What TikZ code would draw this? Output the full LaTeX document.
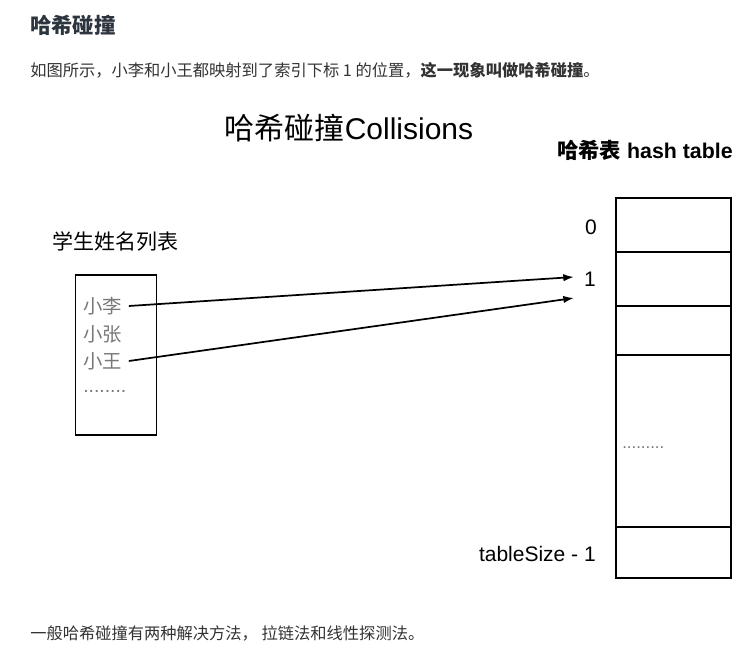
\documentclass[tikz,border=0pt]{standalone}
\usepackage{fontspec}
\setmainfont{Liberation Sans}
\newfontfamily\cjk{Noto Sans CJK SC}
\usetikzlibrary{positioning,arrows.meta}
\definecolor{headgrey}{RGB}{44,52,62}
\definecolor{textgrey}{RGB}{51,51,51}
\definecolor{namegrey}{RGB}{120,120,120}

\begin{document}
\begin{tikzpicture}[
    x=0.75pt, y=-0.75pt,
    >=Latex,
    heading/.style={
        anchor=west,
        inner sep=0pt,
        text=headgrey,
        font=\cjk\bfseries\fontsize{16}{19}\selectfont
    },
    body/.style={
        anchor=west,
        inner sep=0pt,
        text=textgrey,
        font=\cjk\fontsize{12.2}{15}\selectfont
    },
    caption/.style={
        inner sep=0pt,
        font=\fontsize{22.5}{26}\selectfont
    },
    idxtext/.style={
        inner sep=0pt,
        font=\fontsize{15.75}{18}\selectfont
    },
    student/.style={
        anchor=west,
        inner sep=0pt,
        text=namegrey,
        font=\cjk\fontsize{14.5}{17}\selectfont
    },
    listbox/.style={
        draw,
        line width=1.3pt,
        minimum width=60.75pt,
        minimum height=120pt
    },
    cell/.style={
        draw,
        line width=1.3pt,
        outer sep=0pt,
        minimum width=86.25pt
    },
    arrow/.style={-{Latex[length=8pt,width=5.5pt]}, line width=1.3pt}
]

\useasboundingbox (0,0) rectangle (744,645);

% PAGE TEXT
\node[heading] (title) at (30,25)
{哈希碰撞};

\node[body] (intro) at (30,70)
{如图所示，小李和小王都映射到了索引下标 1 的位置，\textbf{这一现象叫做哈希碰撞}。};

\node[body] (outro) at (30,633)
{一般哈希碰撞有两种解决方法， 拉链法和线性探测法。};

% DIAGRAM TITLES
\node[caption] (collisions) at (349,128)
{{\cjk 哈希碰撞}Collisions};

\node[idxtext, anchor=west, font=\bfseries\fontsize{16}{19}\selectfont] (tabletitle) at (557,150)
{{\cjk 哈希表} hash table};

\node[idxtext, anchor=west, font=\cjk\fontsize{15.75}{18}\selectfont] (listtitle) at (52,241)
{学生姓名列表};

% STUDENT LIST
\node[listbox] (list) at (116,355) {};

\node[student] (li) at (83,306) {小李};
\node[student] (zhang) at (83,334) {小张};
\node[student] (wang) at (83,361) {小王};
\node[student, font=\fontsize{14.5}{17}\selectfont] (more) at (83,391) {........};

% HASH TABLE
\node[cell, minimum height=40.5pt] (cell0) at (673.75,225) {};
\node[cell, minimum height=40.5pt] (cell1) at (673.75,279) {};
\node[cell, minimum height=36.75pt] (cell2) at (673.75,330.5) {};
\node[cell, minimum height=129pt] (cellmid) at (673.75,441) {};
\node[cell, minimum height=38.25pt] (celllast) at (673.75,552.5) {};

\node[inner sep=0pt, anchor=west, text=namegrey, font=\fontsize{12.6}{15}\selectfont] (cdots) at (622,448) {.........};

\node[idxtext] (idx0) at (591,227) {0};
\node[idxtext] (idx1) at (590,279) {1};
\node[idxtext, anchor=east] (idxlast) at (596,554) {tableSize - 1};

% COLLISION ARROWS
\coordinate (hit1) at (574,277);
\coordinate (hit2) at (574,298);

\draw[arrow] ([xshift=5pt]li.east) -- (hit1);
\draw[arrow] ([xshift=5pt]wang.east) -- (hit2);

\end{tikzpicture}
\end{document}
